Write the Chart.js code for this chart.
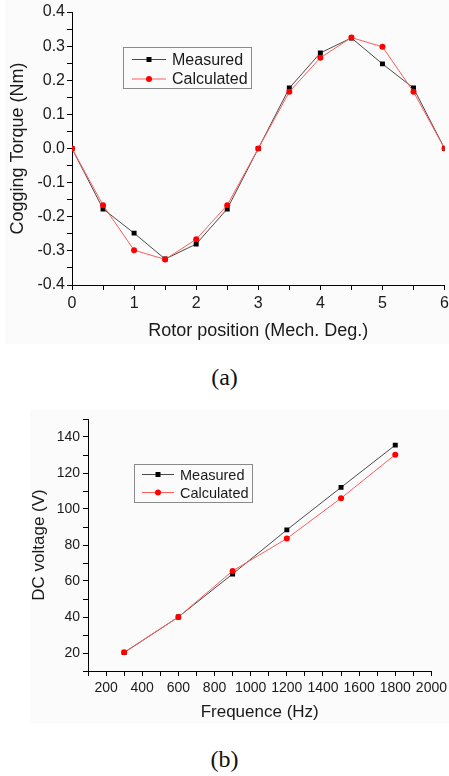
<!DOCTYPE html>
<html>
<head>
<meta charset="utf-8">
<script src="https://cdn.jsdelivr.net/npm/chart.js@4/dist/chart.umd.min.js"></script>
<style>
body { margin: 0; background: #fff; width: 449px; height: 776px; position: relative; overflow: hidden; }
.panel { position: absolute; background: #fbfbfb; }
canvas { position: absolute; left: 0; }
.cap { position: absolute; left: 0; width: 449px; text-align: center;
       font-family: "Liberation Serif", "Times New Roman", serif; font-size: 24px; color: #111; }
</style>
</head>
<body>
<div class="panel" style="left:5px;top:0;width:444px;height:344px"></div>
<div class="panel" style="left:30px;top:410px;width:419px;height:313px"></div>
<!-- canvases a bit wider than the page so the last tick label overflow doesn't pull the axis in -->
<canvas id="torque" width="453" height="350" style="top:0"></canvas>
<canvas id="voltage" width="451" height="330" style="top:400px"></canvas>
<div class="cap" style="top:364px">(a)</div>
<div class="cap" style="top:746px">(b)</div>
<script>
"use strict";

// (a) cogging torque vs rotor position
var rotorPos = [0, 0.5, 1, 1.5, 2, 2.5, 3, 3.5, 4, 4.5, 5, 5.5, 6];
var torqueMeasured = [0, -0.177, -0.248, -0.324, -0.280, -0.177, 0, 0.177, 0.280, 0.324, 0.248, 0.177, 0];
var torqueCalculated = [0, -0.166, -0.298, -0.325, -0.266, -0.166, 0, 0.166, 0.266, 0.325, 0.298, 0.166, 0];

// (b) DC voltage vs frequency
var freqHz = [300, 600, 900, 1200, 1500, 1800];
var voltMeasured = [20.2, 40, 63.9, 88.4, 112, 135.5];
var voltCalculated = [20.4, 40, 65.6, 83.6, 106, 130.2];

var seriesNames = ["Measured", "Calculated"];

var FONT = '"Liberation Sans", Arial, sans-serif';
var INK = "#1a1a1a";

function pts(xs, ys) {
    return xs.map(function (x, i) { return { x: x, y: ys[i] }; });
}

function near(v, step) {
    var r = v / step;
    return Math.abs(r - Math.round(r)) < 1e-6;
}

// legend drawn inside the plot, line + marker like the original
function boxLegend(b) {
    return {
        id: "boxLegend",
        afterDatasetsDraw: function (chart) {
            var ctx = chart.ctx;
            ctx.save();
            ctx.strokeStyle = "#8a8a8a";
            ctx.lineWidth = 1;
            ctx.strokeRect(b.x + 0.5, b.y + 0.5, b.w, b.h);
            ctx.font = b.size + "px " + FONT;
            ctx.textBaseline = "middle";
            chart.data.datasets.forEach(function (ds, i) {
                var y = b.y + b.row0 + i * b.gap;
                ctx.strokeStyle = ds.borderColor;
                ctx.beginPath();
                ctx.moveTo(b.x + b.l0, y);
                ctx.lineTo(b.x + b.l1, y);
                ctx.stroke();
                var mx = b.x + (b.l0 + b.l1) / 2;
                ctx.fillStyle = ds.pointBackgroundColor;
                ctx.beginPath();
                if (ds.pointStyle === "rect") {
                    ctx.rect(mx - 2.5, y - 2.5, 5, 5);
                } else {
                    ctx.arc(mx, y, 3, 0, Math.PI * 2);
                }
                ctx.fill();
                ctx.fillStyle = INK;
                ctx.fillText(ds.label, b.x + b.tx, y + 1);
            });
            ctx.restore();
        }
    };
}

function makeSets(xs, meas, calc, r1, r2) {
    return [
        { label: seriesNames[0], data: pts(xs, meas), borderColor: "#4a4a4a", borderWidth: 1,
          pointStyle: "rect", pointRadius: r1, pointBorderWidth: 0, pointBackgroundColor: "#000",
          tension: 0, order: 2 },
        { label: seriesNames[1], data: pts(xs, calc), borderColor: "#ff5c5c", borderWidth: 1,
          pointStyle: "circle", pointRadius: r2, pointBorderWidth: 0, pointBackgroundColor: "#ff0000",
          tension: 0, order: 1 }
    ];
}

function axis(o) {
    return {
        type: "linear",
        min: o.min, max: o.max,
        ticks: { stepSize: o.step, autoSkip: false, maxRotation: 0, padding: o.pad,
                 color: INK, font: { family: FONT, size: o.tickSize }, callback: o.label },
        grid: { drawOnChartArea: false, drawTicks: true, tickLength: 5, color: "#000" },
        border: { display: true, color: "#000", width: 1 },
        title: { display: true, text: o.title, color: INK,
                 font: { family: FONT, size: o.titleSize }, padding: o.titlePad },
        afterFit: o.fit
    };
}

new Chart(document.getElementById("torque"), {
    type: "line",
    data: { datasets: makeSets(rotorPos, torqueMeasured, torqueCalculated, 3.5, 3) },
    options: {
        responsive: false, animation: false, devicePixelRatio: 1,
        layout: { padding: { left: 0, right: 5, top: 12, bottom: 0 } },
        plugins: { legend: { display: false }, tooltip: { enabled: false } },
        scales: {
            x: axis({ min: 0, max: 6, step: 0.5, pad: 4, tickSize: 16, titleSize: 18,
                      title: "Rotor position (Mech. Deg.)", titlePad: { top: 0, bottom: 8.5 },
                      label: function (v) { return near(v, 1) ? String(Math.round(v)) : ""; },
                      fit: function (s) { s.height = 65; } }),
            y: axis({ min: -0.4, max: 0.4, step: 0.05, pad: 2, tickSize: 16, titleSize: 18,
                      title: "Cogging Torque (Nm)", titlePad: { top: 7, bottom: 0 },
                      label: function (v) { return near(v, 0.1) ? v.toFixed(1) : ""; },
                      fit: function (s) { s.width = 72; } })
        }
    },
    plugins: [boxLegend({ x: 123, y: 47, w: 128, h: 41, row0: 12.5, gap: 19.5,
                          l0: 9, l1: 43, tx: 49, size: 16 })]
});

new Chart(document.getElementById("voltage"), {
    type: "line",
    data: { datasets: makeSets(freqHz, voltMeasured, voltCalculated, 3.5, 3) },
    options: {
        responsive: false, animation: false, devicePixelRatio: 1,
        layout: { padding: { left: 0, right: 18, top: 19, bottom: 0 } },
        plugins: { legend: { display: false }, tooltip: { enabled: false } },
        scales: {
            x: axis({ min: 100, max: 2000, step: 100, pad: 4, tickSize: 14, titleSize: 17,
                      title: "Frequence (Hz)", titlePad: { top: 0, bottom: 7 },
                      label: function (v) { return near(v, 200) ? String(v) : ""; },
                      fit: function (s) { s.height = 59; } }),
            y: axis({ min: 10, max: 150, step: 10, pad: 3, tickSize: 14, titleSize: 17,
                      title: "DC voltage (V)", titlePad: { top: 29, bottom: 0 },
                      label: function (v) { return near(v, 20) ? String(v) : ""; },
                      fit: function (s) { s.width = 88; } })
        }
    },
    plugins: [boxLegend({ x: 134, y: 64, w: 118, h: 38, row0: 10.5, gap: 18,
                          l0: 8, l1: 40, tx: 46, size: 14.5 })]
});
</script>
</body>
</html>
